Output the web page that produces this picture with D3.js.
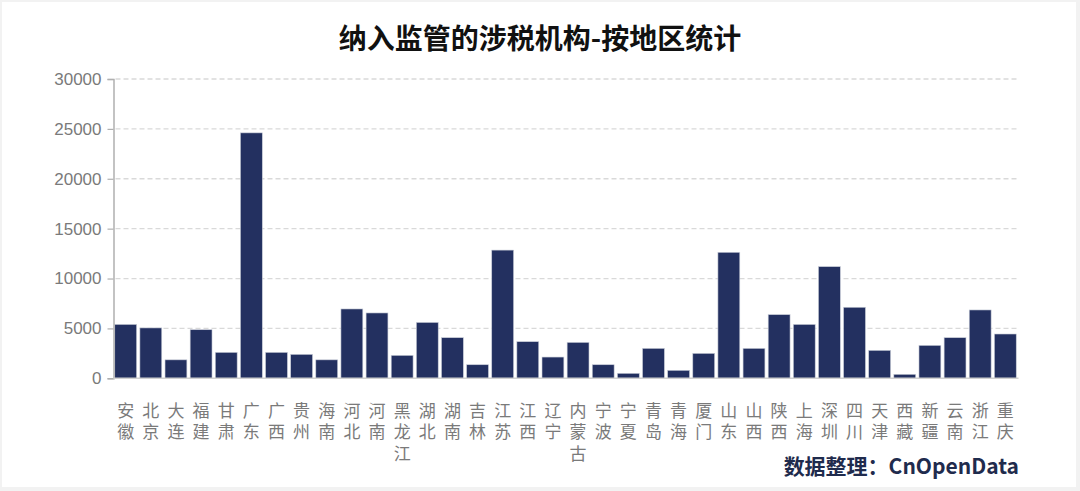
<!DOCTYPE html>
<html><head><meta charset="utf-8">
<script src="https://cdn.jsdelivr.net/npm/d3@7"></script>
<style>
html,body{margin:0;padding:0;background:#f2f2f2;}
svg{display:block;}
</style></head>
<body><svg id="c" width="1080" height="491"></svg>
<script>
const categories = ["安徽","北京","大连","福建","甘肃","广东","广西","贵州","海南","河北","河南","黑龙江","湖北","湖南","吉林","江苏","江西","辽宁","内蒙古","宁波","宁夏","青岛","青海","厦门","山东","山西","陕西","上海","深圳","四川","天津","西藏","新疆","云南","浙江","重庆"];
const values = [5400,5050,1850,4870,2600,24600,2600,2400,1850,6950,6550,2300,5600,4070,1360,12850,3670,2130,3600,1360,500,3000,800,2500,12630,3000,6380,5400,11190,7120,2800,400,3300,4070,6850,4440];
const yTicks = [0,5000,10000,15000,20000,25000,30000];
const title = "纳入监管的涉税机构-按地区统计";
const source = "数据整理：CnOpenData";

(function(){
const svg = d3.select("#c");
svg.append("rect").attr("x",2).attr("y",2).attr("width",1074).attr("height",485).attr("fill","#fff");

const mL = 113.5, mR = 1017.5, mT = 79, mB = 378.3;
const x = d3.scaleBand().domain(categories).range([mL,mR]).paddingInner(0.13).paddingOuter(0.05);
const y = d3.scaleLinear().domain([0,30000]).range([mB,mT]);

svg.append("g").selectAll("line").data(yTicks.slice(1)).join("line")
  .attr("x1",mL+2).attr("x2",mR+1).attr("y1",d=>y(d)).attr("y2",d=>y(d))
  .attr("stroke","#d9d9d9").attr("stroke-width",1.3).attr("stroke-dasharray","5,3");

svg.append("g").selectAll("rect").data(values).join("rect")
  .attr("x",(d,i)=>x(categories[i])).attr("width",x.bandwidth())
  .attr("y",d=>y(d)).attr("height",d=>mB-y(d))
  .attr("fill","#233060").attr("stroke","#c9cdd8").attr("stroke-width",0.6);

const ya = d3.axisLeft(y).tickValues(yTicks).tickSize(6).tickPadding(6).tickFormat(d3.format("d"));
const gy = svg.append("g").attr("transform",`translate(${mL},0)`).call(ya);
gy.select(".domain").attr("stroke","#b0b0b0").attr("stroke-width",1.5);
gy.selectAll(".tick line").attr("stroke","#b0b0b0").attr("stroke-width",1.2);
gy.selectAll(".tick text").attr("fill","#7a7a7a").attr("font-size",17).attr("font-family","'Liberation Sans',Arial,sans-serif");

svg.append("line").attr("x1",mL).attr("x2",mR+1).attr("y1",mB).attr("y2",mB)
  .attr("stroke","#d0d0d0").attr("stroke-width",1.5);

const xl = svg.append("g");
categories.forEach(c=>{
  const cx = x(c)+x.bandwidth()/2;
  Array.from(c).forEach((ch,j)=>{
    xl.append("text").attr("text-anchor","middle").attr("fill","#7a7a7a")
      .attr("font-size",17).attr("font-family","'Noto Sans CJK SC',sans-serif")
      .attr("x",cx).attr("y",417+j*21.3).text(ch);
  });
});

svg.append("text").attr("x",540).attr("y",49).attr("text-anchor","middle")
  .attr("font-size",28).attr("font-weight","bold").attr("fill","#111")
  .attr("font-family","'Noto Sans CJK SC',sans-serif").text(title);

svg.append("text").attr("x",1019).attr("y",474).attr("text-anchor","end")
  .attr("font-size",21).attr("font-weight","bold").attr("fill","#1f2b4d")
  .attr("font-family","'Noto Sans CJK SC',sans-serif").text(source);
})();
</script></body></html>
